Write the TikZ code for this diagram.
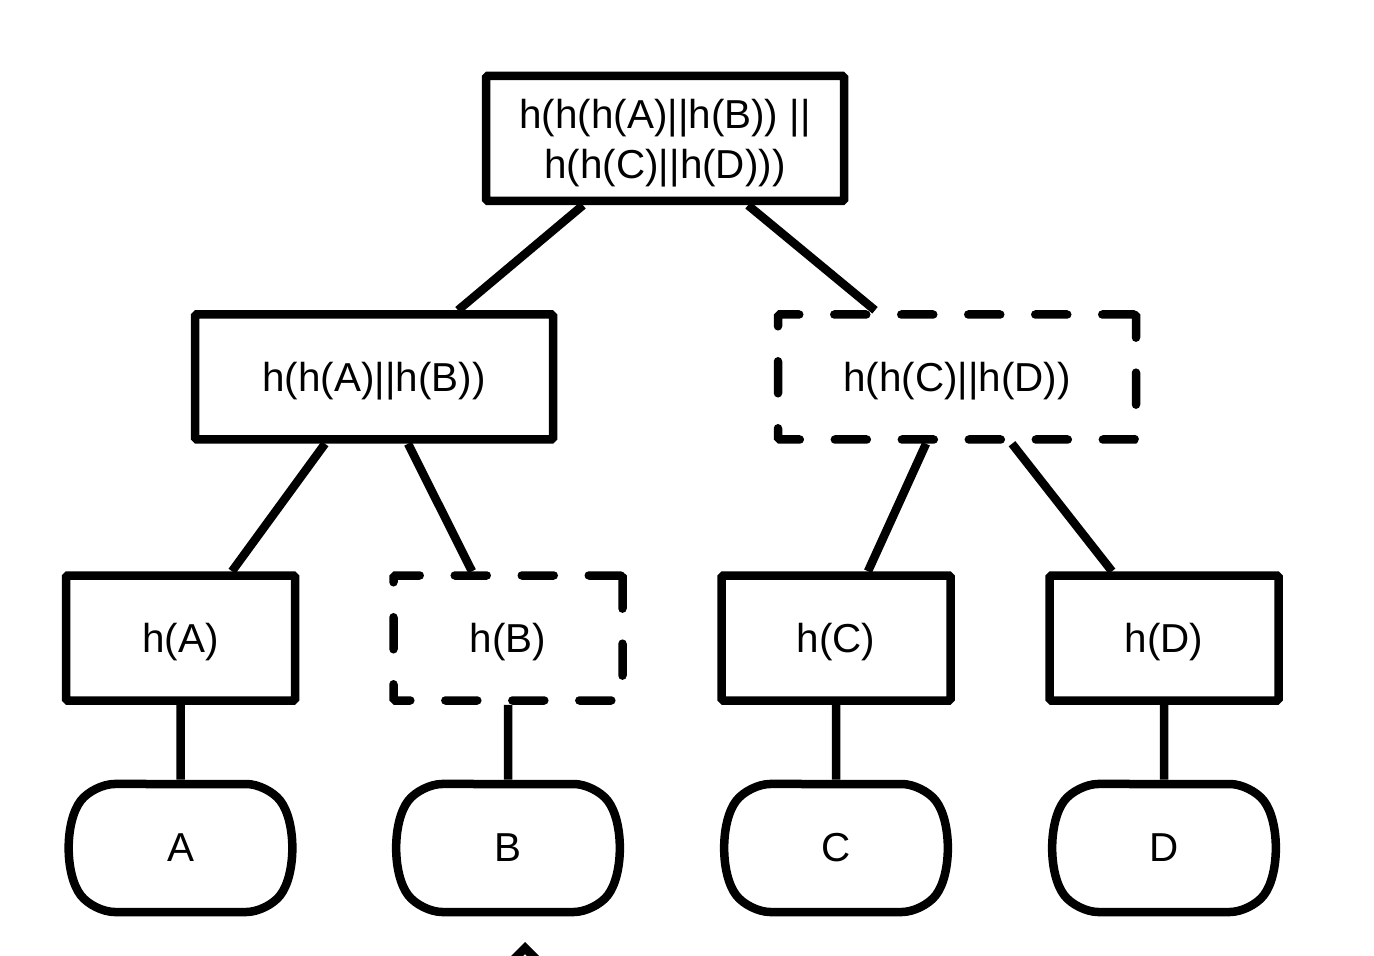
\documentclass[tikz,border=0pt]{standalone}
\usepackage{fontspec}
\setmainfont{Liberation Sans}
\usepackage{tikz}
\usetikzlibrary{positioning, shapes.misc, calc}
\tikzset{
	% nodo hash (rettangolo)
	hashbox/.style={draw, line width=0.17cm, rectangle, rounded corners=1pt, fill=white,
	                minimum width=4.58cm, minimum height=2.5cm, align=center, text depth=0pt,
	                font=\fontsize{23}{28.6}\selectfont},
	% nodo hash interno (più largo)
	hashwide/.style={hashbox, minimum width=7.16cm},
	% nodo non memorizzato (tratteggiato)
	tratt/.style={dash pattern=on 0.64cm off 0.7cm, line cap=round},
	% foglia con i dati
	foglia/.style={draw, line width=0.17cm, rounded rectangle, rounded rectangle arc length=75,
	               rounded corners=12pt, minimum width=4.58cm, minimum height=2.56cm,
	               font=\fontsize{23}{28.6}\selectfont},
	% collegamento
	ramo/.style={line width=0.17cm},
}

\begin{document}
\begin{tikzpicture}
    \useasboundingbox (0,0) rectangle (27.48,-19.12);
    \clip (0,0) rectangle (27.48,-19.12);
    \node[hashwide, minimum height=2.5cm] (root) at (13.30,-2.77) {h(h(h(A)||h(B)) ||\\ h(h(C)||h(D)))};
    \node[hashwide] (hAB) at (7.48,-7.54) {h(h(A)||h(B))};
    \node[hashwide, tratt] (hCD) at (19.14,-7.54) {h(h(C)||h(D))};
    \node[hashbox] (hA) at (3.61,-12.76) {h(A)};
    \node[hashbox, tratt] (hB) at (10.16,-12.76) {h(B)};
    \node[hashbox] (hC) at (16.72,-12.76) {h(C)};
    \node[hashbox] (hD) at (23.28,-12.76) {h(D)};
    \node[foglia, below=1.5cm of hA] (A) {A};
    \node[foglia, below=1.5cm of hB] (B) {B};
    \node[foglia, below=1.5cm of hC] (C) {C};
    \node[foglia, below=1.5cm of hD] (D) {D};
    \draw[ramo] ([xshift=-1.64cm]root.south) -- ([xshift=1.68cm]hAB.north);
    \draw[ramo] ([xshift=1.66cm]root.south) -- ([xshift=-1.64cm]hCD.north);
    \draw[ramo] ([xshift=-0.98cm]hAB.south) -- ([xshift=1.03cm]hA.north);
    \draw[ramo] ([xshift=0.68cm]hAB.south) -- ([xshift=-0.72cm]hB.north);
    \draw[ramo] ([xshift=-0.62cm]hCD.south) -- ([xshift=0.64cm]hC.north);
    \draw[ramo] ([xshift=1.10cm]hCD.south) -- ([xshift=-1.04cm]hD.north);
    \foreach \h/\f in {hA/A, hB/B, hC/C, hD/D}
      \draw[ramo] (\h) -- (\f);
    % punta tagliata in basso
    \draw[ramo, miter limit=4] (10.02,-19.44) -- (10.50,-18.96) -- (10.98,-19.44);
  \end{tikzpicture}
\end{document}
